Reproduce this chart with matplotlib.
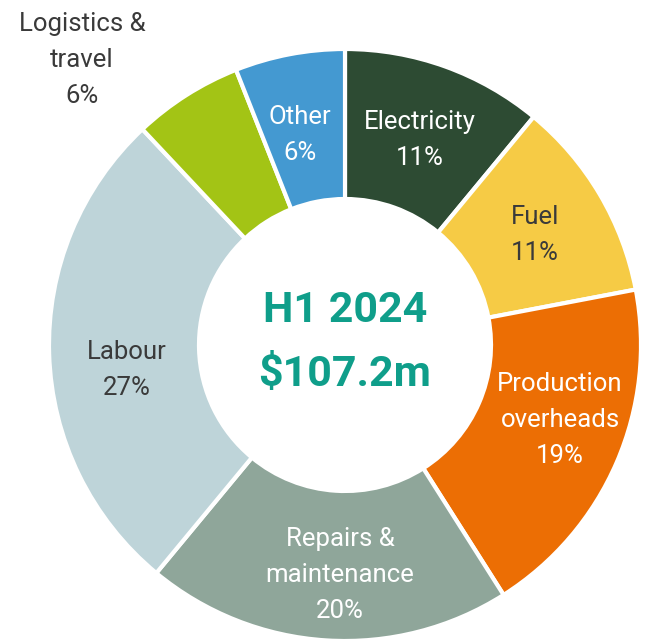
import matplotlib
matplotlib.use("Agg")
import matplotlib.pyplot as plt

# slice data, clockwise from 12 o'clock
categories = ["Electricity", "Fuel", "Production\noverheads", "Repairs &\nmaintenance",
              "Labour", "Logistics &\ntravel", "Other"]
shares = [11, 11, 19, 20, 27, 6, 6]
colours = ["#2d4b33", "#f6cb45", "#ec6e04", "#8fa69a", "#bed4d9", "#a3c415", "#4499d1"]
text_colours = ["white", "#3a3a3a", "white", "white", "#3a3a3a", "#3a3a3a", "white"]
period = "H1 2024"
total = "$107.2m"

# label centres (pixel offsets from the ring centre, y up)
label_pos = [(75, 205), (190, 110), (215, -75), (-5, -230), (-218, -25), (-263, 285), (-45, 210)]

fig = plt.figure(figsize=(6.48, 6.43), dpi=100)
ax = fig.add_axes([0, 0, 1, 1])

R = 296
ax.pie(shares, colors=colours, radius=R, startangle=90, counterclock=False,
       wedgeprops=dict(width=150, edgecolor="white", linewidth=3))

for name, val, (x, y), c in zip(categories, shares, label_pos, text_colours):
    ax.text(x, y, f"{name}\n{val}%", ha="center", va="center", color=c,
            fontsize=18.5, family=["Roboto", "DejaVu Sans"], linespacing=1.65)

centre_font = dict(ha="center", va="center", color="#0f9e8a", fontsize=31,
                   fontweight="bold", family=["Roboto", "DejaVu Sans"])
ax.text(0, 34, period, **centre_font)
ax.text(0, -30, total, **centre_font)

ax.set_xlim(-345, 303)
ax.set_ylim(-298, 345)
ax.set_aspect("equal")
ax.axis("off")

fig.savefig("out.png", dpi=100)
